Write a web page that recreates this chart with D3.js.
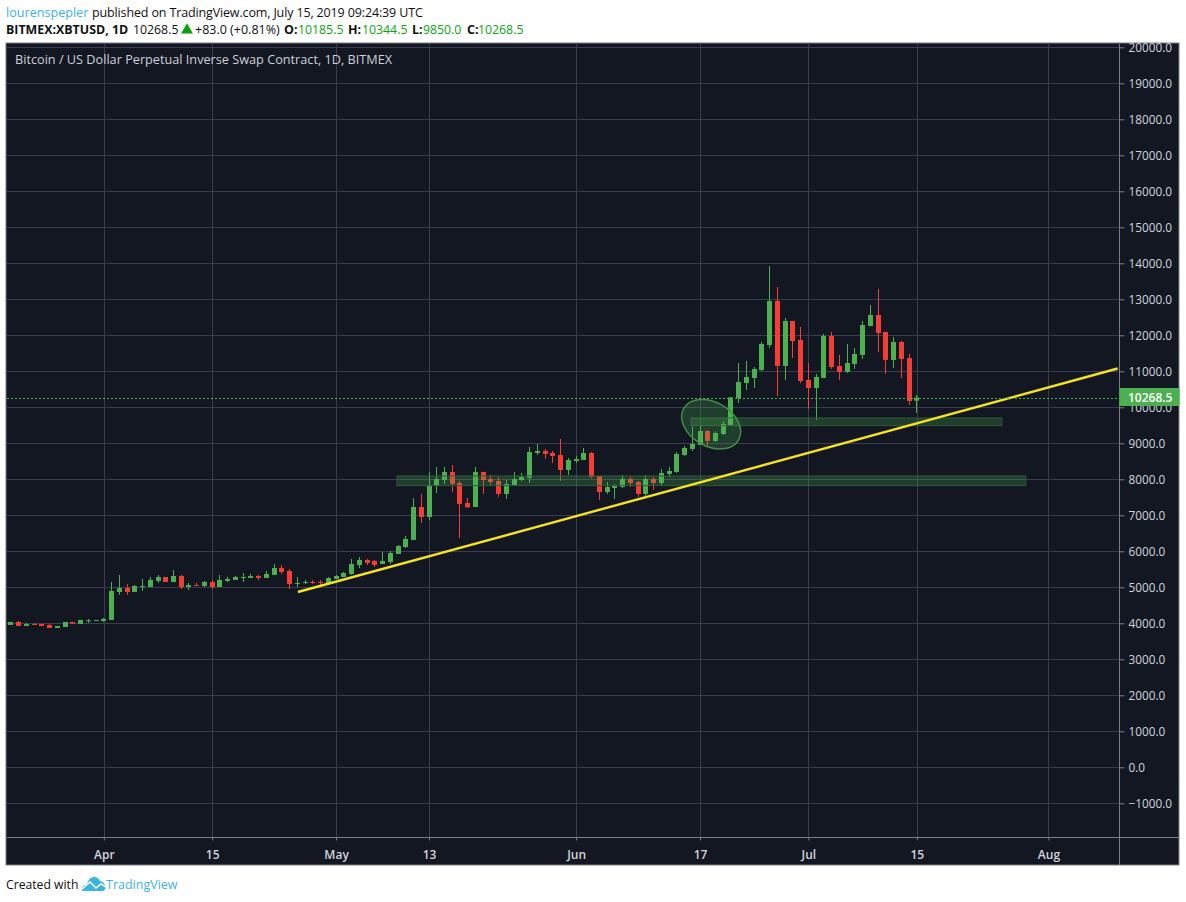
<!DOCTYPE html>
<html>
<head>
<meta charset="utf-8">
<title>XBTUSD</title>
<style>
  html, body { margin: 0; padding: 0; background: #fff; }
  svg { display: block; }
  text { font-family: "Open Sans", "Noto Sans", sans-serif; }
</style>
<script src="https://cdn.jsdelivr.net/npm/d3@7"></script>
</head>
<body>
<div id="chart"></div>
<script>
// daily candles, first one is 20 Mar 2019
var firstDay = new Date(Date.UTC(2019, 2, 20));

var opens = [3954, 4037, 3926, 3981, 3981, 3954, 3870, 3898, 4037, 3981, 4065, 4074, 4065,
  4093, 4870, 4982, 4870, 5009, 5009, 5176, 5287, 5148, 5315, 5009, 5065, 5037, 5148, 5009,
  5176, 5204, 5259, 5259, 5315, 5259, 5343, 5537, 5454, 5093, 5120, 5148, 5148, 5120, 5232,
  5287, 5370, 5620, 5759, 5732, 5648, 5704, 5926, 6120, 6315, 7231, 6954, 7815, 7981, 8204,
  7898, 7343, 7231, 8204, 8009, 7954, 7593, 7843, 7981, 8037, 8731, 8787, 8731, 8676, 8259,
  8509, 8537, 8731, 8093, 7648, 7759, 7787, 8009, 7926, 7593, 8009, 7898, 8148, 8204, 8676,
  8843, 8954, 9343, 9065, 9259, 9509, 10259, 10676, 10815, 11037, 11731, 12954, 11148, 12398,
  11870, 10759, 10537, 10815, 11981, 11148, 10981, 11204, 11454, 12259, 12565, 12093, 11315,
  11815, 11370, 10185.5];
var highs = [4037, 4065, 4009, 4009, 3981, 3981, 3926, 4037, 4037, 4093, 4120, 4093, 4148,
  5148, 5343, 5093, 5065, 5232, 5287, 5343, 5287, 5482, 5343, 5120, 5120, 5176, 5204, 5343,
  5287, 5315, 5398, 5370, 5343, 5454, 5648, 5620, 5510, 5287, 5204, 5204, 5204, 5287, 5343,
  5426, 5787, 5843, 5787, 5759, 5981, 6009, 6176, 6426, 7481, 7593, 8204, 8343, 8343, 8398,
  7954, 7481, 8343, 8204, 8120, 8065, 7981, 8204, 8176, 8898, 8981, 8843, 8787, 9120, 8593,
  8648, 8870, 8759, 8093, 7926, 7870, 8120, 8065, 7954, 8120, 8065, 8287, 8343, 8759, 8926,
  9454, 9509, 9370, 9333, 9620, 10278, 11231, 11287, 11120, 11815, 13926, 13343, 12481, 12398,
  12231, 11231, 10926, 12037, 12093, 11454, 11759, 11648, 12398, 12843, 13287, 12093, 11954,
  11843, 11481, 10344.5];
var lows = [3954, 3926, 3926, 3954, 3926, 3870, 3870, 3898, 3990, 3981, 4009, 4074, 4037,
  4093, 4787, 4787, 4870, 4898, 5009, 5120, 5148, 5148, 4954, 4926, 5037, 5009, 4954, 5009,
  5148, 5204, 5148, 5259, 5204, 5259, 5343, 5370, 4954, 5009, 5093, 5093, 5065, 5120, 5232,
  5287, 5343, 5537, 5620, 5565, 5648, 5648, 5926, 6092, 6315, 6787, 6870, 7620, 7870, 7648,
  6370, 7204, 7231, 7593, 7815, 7509, 7454, 7843, 7954, 7898, 8676, 8565, 8454, 7954, 8120,
  8454, 8537, 8037, 7426, 7593, 7454, 7759, 7787, 7509, 7481, 7704, 7815, 8065, 8176, 8648,
  8787, 8954, 8926, 9037, 9231, 9509, 10120, 10481, 10537, 11009, 11648, 10315, 10759, 11370,
  10676, 9954, 9648, 10815, 11065, 10759, 10954, 11065, 11343, 12259, 11537, 10926, 11093,
  10815, 10065, 9850];
var closes = [4037, 3926, 3981, 3954, 3926, 3870, 3926, 4037, 3990, 4093, 4083, 4093, 4120,
  4898, 4982, 4870, 5037, 5037, 5204, 5287, 5148, 5315, 5009, 5065, 5037, 5148, 5009, 5204,
  5232, 5287, 5287, 5315, 5259, 5370, 5537, 5426, 5093, 5120, 5148, 5120, 5120, 5259, 5315,
  5398, 5648, 5759, 5676, 5620, 5732, 5954, 6148, 6342, 7231, 6954, 7843, 8009, 8204, 7870,
  7315, 7222, 8204, 7981, 7926, 7593, 7870, 8009, 8065, 8759, 8787, 8704, 8648, 8259, 8537,
  8565, 8731, 8065, 7648, 7787, 7815, 8009, 7898, 7593, 8009, 7898, 8176, 8231, 8704, 8870,
  8981, 9343, 9065, 9287, 9537, 10278, 10704, 10843, 11065, 11759, 12954, 11148, 12398, 11843,
  10731, 10537, 10843, 11981, 11120, 10981, 11231, 11481, 12287, 12565, 12065, 11315, 11815,
  11343, 10176, 10268.5];

var priceTicks = [-1000, 0, 1000, 2000, 3000, 4000, 5000, 6000, 7000, 8000, 9000, 10000,
  11000, 12000, 13000, 14000, 15000, 16000, 17000, 18000, 19000, 20000];
var timeTicks = [[2019, 3, 1, "Apr"], [2019, 3, 15, "15"], [2019, 4, 1, "May"], [2019, 4, 13, "13"],
  [2019, 5, 1, "Jun"], [2019, 5, 17, "17"], [2019, 6, 1, "Jul"], [2019, 6, 15, "15"], [2019, 7, 1, "Aug"]];
var lastPrice = 10268.5;

// drawings on the chart: [date, price]
var trendLine = [[Date.UTC(2019, 3, 26), 4869], [Date.UTC(2019, 7, 9, 21), 11078]];
var zoneLow = [Date.UTC(2019, 4, 8, 19), Date.UTC(2019, 6, 29), 8093, 7824];
var zoneHigh = [Date.UTC(2019, 5, 15, 19), Date.UTC(2019, 6, 25, 22), 9704, 9490];
var circled = [Date.UTC(2019, 5, 18, 9), 9530];

var width = 1186, height = 902;
var pane = { left: 7, right: 1119, top: 44, bottom: 837, outerRight: 1179, outerBottom: 865 };
var gridColor = "#383e50", frameColor = "#7b7e85", textColor = "#d1d4dc";
var upColor = "#4caf50", downColor = "#f63c35";

var svg = d3.select("#chart").append("svg")
  .attr("width", width)
  .attr("height", height);

var x = d3.scaleUtc()
  .domain([Date.UTC(2019, 3, 1), Date.UTC(2019, 6, 15)])
  .range([104.3, 917.3]);

var y = d3.scaleLinear()
  .domain([0, 20000])
  .range([767.3, 47.3]);

svg.append("rect")
  .attr("x", pane.left - 1).attr("y", pane.top - 1)
  .attr("width", pane.outerRight - pane.left + 1)
  .attr("height", pane.outerBottom - pane.top + 1)
  .attr("fill", "#131722")
  .attr("stroke", frameColor)
  .attr("stroke-width", 1);

var timeDates = timeTicks.map(function (t) { return new Date(Date.UTC(t[0], t[1], t[2])); });

// grid
var grid = svg.append("g").attr("stroke", gridColor).attr("stroke-width", 1);
grid.selectAll(".h").data(priceTicks).enter().append("line")
  .attr("x1", pane.left).attr("x2", pane.right)
  .attr("y1", function (d) { return Math.round(y(d)) + 0.5; })
  .attr("y2", function (d) { return Math.round(y(d)) + 0.5; });
grid.selectAll(".v").data(timeDates).enter().append("line")
  .attr("x1", function (d) { return Math.floor(x(d)) + 0.5; })
  .attr("x2", function (d) { return Math.floor(x(d)) + 0.5; })
  .attr("y1", pane.top).attr("y2", pane.bottom);

// right axis
var yAxis = d3.axisRight(y)
  .tickValues(priceTicks)
  .tickSize(5)
  .tickPadding(4)
  .tickFormat(function (d) { return (d < 0 ? "\u2212" + (-d) : d) + ".0"; });
var yg = svg.append("g").attr("transform", "translate(" + (pane.right + 0.5) + ",0)").call(yAxis);
yg.select(".domain").remove();
yg.selectAll("line").attr("stroke", frameColor);
yg.selectAll("text").attr("fill", textColor).attr("font-size", 11.8)
  .attr("font-family", '"Open Sans"');

// bottom axis
var xAxis = d3.axisBottom(x)
  .tickValues(timeDates)
  .tickSize(3)
  .tickPadding(10)
  .tickFormat(function (d, i) { return timeTicks[i][3]; });
var xg = svg.append("g").attr("transform", "translate(-0.5," + (pane.bottom + 0.5) + ")").call(xAxis);
xg.select(".domain").remove();
xg.selectAll("line").attr("stroke", frameColor);
xg.selectAll("text").attr("fill", textColor).attr("font-size", 12).attr("font-weight", 600)
  .attr("font-family", '"Open Sans"');

svg.append("line").attr("x1", pane.left).attr("x2", pane.outerRight)
  .attr("y1", pane.bottom + 0.5).attr("y2", pane.bottom + 0.5).attr("stroke", frameColor);
svg.append("line").attr("x1", pane.right + 0.5).attr("x2", pane.right + 0.5)
  .attr("y1", pane.top).attr("y2", pane.outerBottom).attr("stroke", frameColor);

// candles
var candles = opens.map(function (o, i) {
  return { date: d3.utcDay.offset(firstDay, i), o: o, h: highs[i], l: lows[i], c: closes[i] };
});
var candle = svg.append("g").selectAll("g").data(candles).enter().append("g")
  .attr("fill", function (d) { return d.c >= d.o ? upColor : downColor; })
  .attr("stroke", function (d) { return d.c >= d.o ? upColor : downColor; });
candle.append("line")
  .attr("x1", function (d) { return Math.round(x(d.date)) - 0.5; })
  .attr("x2", function (d) { return Math.round(x(d.date)) - 0.5; })
  .attr("y1", function (d) { return y(d.h); })
  .attr("y2", function (d) { return y(d.l); });
candle.append("rect")
  .attr("stroke", "none")
  .attr("x", function (d) { return Math.round(x(d.date)) - 3; })
  .attr("width", 5)
  .attr("y", function (d) { return y(Math.max(d.o, d.c)); })
  .attr("height", function (d) { return Math.max(1, Math.abs(y(d.o) - y(d.c))); });

// zones and ellipse
[zoneLow, zoneHigh].forEach(function (z) {
  svg.append("rect")
    .attr("x", x(z[0])).attr("width", x(z[1]) - x(z[0]))
    .attr("y", y(z[2])).attr("height", y(z[3]) - y(z[2]))
    .attr("fill", "#4caf50").attr("fill-opacity", 0.25)
    .attr("stroke", "#2f5c3a").attr("stroke-width", 1);
});
svg.append("ellipse")
  .attr("transform", "translate(" + x(circled[0]) + "," + y(circled[1]) + ") rotate(30)")
  .attr("rx", 31.6).attr("ry", 22)
  .attr("fill", "#4caf50").attr("fill-opacity", 0.25)
  .attr("stroke", "#3f8f45").attr("stroke-width", 1.5);

// trend line
var line = d3.line()
  .x(function (d) { return x(d[0]); })
  .y(function (d) { return y(d[1]); });
svg.append("path")
  .datum(trendLine)
  .attr("d", line)
  .attr("fill", "none")
  .attr("stroke", "#f5e323")
  .attr("stroke-width", 2.4);

// last price
var lastY = Math.round(y(lastPrice));
svg.append("line")
  .attr("x1", pane.left).attr("x2", pane.right)
  .attr("y1", lastY + 0.5).attr("y2", lastY + 0.5)
  .attr("stroke", upColor).attr("stroke-dasharray", "2 2");
svg.append("rect")
  .attr("x", pane.right + 0.5).attr("y", lastY - 10)
  .attr("width", pane.outerRight - pane.right).attr("height", 18)
  .attr("fill", upColor);
svg.append("text")
  .attr("x", 1128).attr("y", lastY + 4)
  .attr("fill", "#fff").attr("font-size", 12).attr("font-weight", 600)
  .text("10268.5");

// texts
function label(xp, yp, str, color, size, weight, spacing) {
  svg.append("text")
    .attr("x", xp).attr("y", yp)
    .attr("fill", color)
    .attr("font-size", size)
    .attr("font-weight", weight || 400)
    .attr("letter-spacing", spacing || 0)
    .text(str);
}
var dark = "#111", quoteGreen = "#09a50f", linkBlue = "#3bb3e4";

label(15, 64, "Bitcoin / US Dollar Perpetual Inverse Swap Contract, 1D, BITMEX", "#cdd0d8", 12.7, 400);

label(6, 17, "lourenspepler", linkBlue, 12.6);
label(92, 17, "published on TradingView.com, July 15, 2019 09:24:39 UTC", dark, 12.5, 400, -0.14);

label(6, 34, "BITMEX:XBTUSD, 1D", dark, 12.4, 700);
label(133, 34, "10268.5", dark, 12.3);
svg.append("path")
  .attr("d", d3.symbol(d3.symbolTriangle, 60))
  .attr("transform", "translate(187,30)")
  .attr("fill", "#0a9e0a");
label(195, 34, "+83.0 (+0.81%)", dark, 12.5);
label(284, 34, "O:", dark, 12.5, 700);
label(298, 34, "10185.5", quoteGreen, 12.3);
label(348, 34, "H:", dark, 12.5, 700);
label(362, 34, "10344.5", quoteGreen, 12.3);
label(412, 34, "L:", dark, 12.5, 700);
label(423, 34, "9850.0", quoteGreen, 12.3);
label(467, 34, "C:", dark, 12.5, 700);
label(478, 34, "10268.5", quoteGreen, 12.3);

label(6, 889, "Created with", dark, 12.2);
label(106, 889, "TradingView", linkBlue, 12.5);

// logo
svg.append("path")
  .attr("d", "M82 891 L82 888 Q83 885 87 884 Q89 877 94 877 Q98 877 100 881 Q105 882 105.5 887 Q105.5 891 102 891 Z")
  .attr("fill", linkBlue);
svg.append("path")
  .attr("d", "M82 889 L90 882 L96 888 L101 884 L106 887")
  .attr("fill", "none")
  .attr("stroke", "#fff")
  .attr("stroke-width", 1.5);
</script>
</body>
</html>
